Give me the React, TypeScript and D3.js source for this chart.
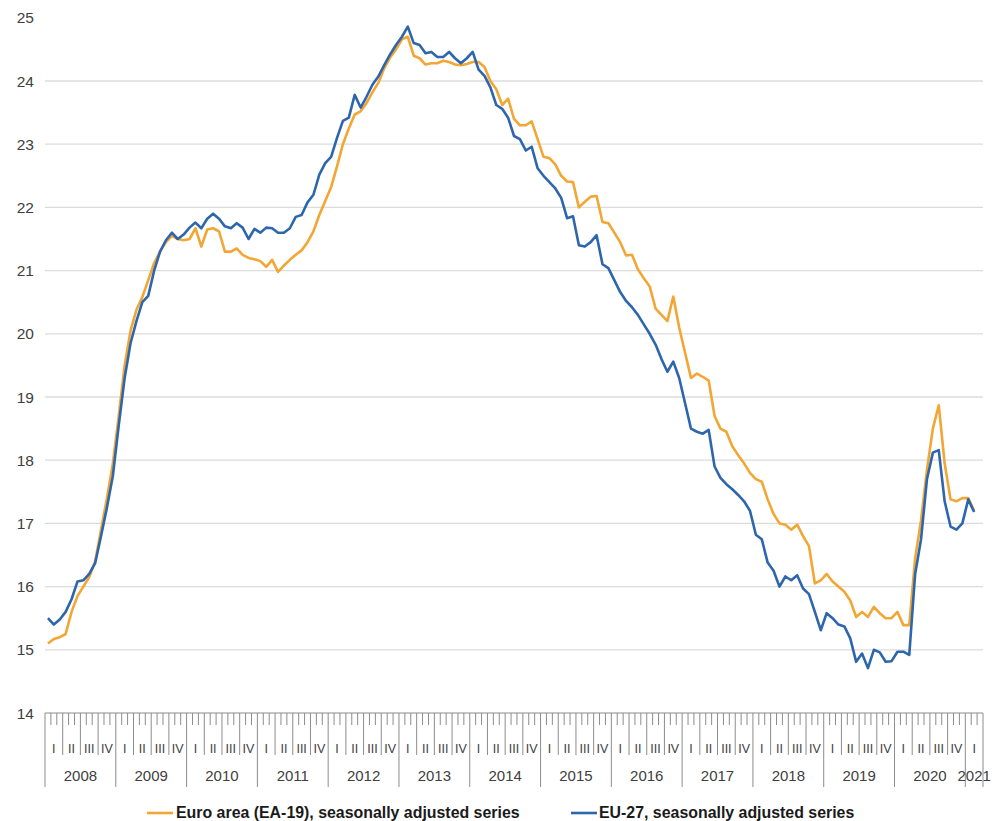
import React from 'react';
import * as d3 from 'd3';

// ---- data ----
const years = [2008, 2009, 2010, 2011, 2012, 2013, 2014, 2015, 2016, 2017, 2018, 2019, 2020, 2021];
const monthsInLastYear = 3;
const quarterLabels = ['I', 'II', 'III', 'IV'];
const yTicks = [14, 15, 16, 17, 18, 19, 20, 21, 22, 23, 24, 25];
const legendLabels = ['Euro area (EA-19), seasonally adjusted series', 'EU-27, seasonally adjusted series'];

// Euro area (EA-19), monthly from Jan 2008
const euroArea = [
  15.1, 15.17, 15.2, 15.25, 15.6, 15.85, 16.0, 16.15, 16.4, 16.9,
  17.4, 17.95, 18.7, 19.5, 20.05, 20.38, 20.58, 20.85, 21.12, 21.3,
  21.45, 21.55, 21.5, 21.48, 21.5, 21.67, 21.38, 21.65, 21.67, 21.62,
  21.3, 21.3, 21.35, 21.25, 21.2, 21.18, 21.15, 21.06, 21.17, 20.98,
  21.08, 21.17, 21.25, 21.32, 21.45, 21.62, 21.88, 22.1, 22.32, 22.65,
  23.0, 23.25, 23.47, 23.52, 23.65, 23.82, 23.97, 24.2, 24.37, 24.5,
  24.66, 24.7, 24.4, 24.36, 24.26, 24.28, 24.28, 24.32, 24.3, 24.26,
  24.25, 24.27, 24.3, 24.3, 24.22, 24.0, 23.87, 23.62, 23.72, 23.4,
  23.3, 23.3, 23.36, 23.08, 22.8, 22.78, 22.68, 22.5, 22.41, 22.4,
  22.0, 22.09, 22.17, 22.18, 21.77, 21.75, 21.6, 21.45, 21.24, 21.25,
  21.02, 20.88, 20.75, 20.4, 20.3, 20.2, 20.59, 20.1, 19.7, 19.3,
  19.37, 19.32, 19.26, 18.7, 18.5, 18.45, 18.22, 18.08, 17.95, 17.8,
  17.7, 17.66, 17.38, 17.15, 17.0, 16.98, 16.9, 16.98, 16.8, 16.64,
  16.05, 16.1, 16.2, 16.08, 16.0, 15.92, 15.78, 15.52, 15.6, 15.52,
  15.68, 15.58, 15.5, 15.5, 15.6, 15.39, 15.39, 16.45, 17.05, 17.85,
  18.5, 18.87, 17.95, 17.38, 17.35, 17.4, 17.4, 17.2,
];

// EU-27, monthly from Jan 2008
const eu27 = [
  15.5, 15.4, 15.48, 15.6, 15.8, 16.08, 16.1, 16.2, 16.37, 16.8,
  17.25, 17.75, 18.55, 19.3, 19.85, 20.2, 20.5, 20.6, 21.0, 21.3,
  21.48, 21.6, 21.5, 21.57, 21.68, 21.76, 21.67, 21.82, 21.9, 21.82,
  21.7, 21.67, 21.75, 21.68, 21.5, 21.66, 21.6, 21.68, 21.67, 21.6,
  21.6, 21.67, 21.85, 21.88, 22.08, 22.2, 22.52, 22.7, 22.8, 23.1,
  23.37, 23.42, 23.78, 23.58, 23.75, 23.94, 24.07, 24.25, 24.42, 24.57,
  24.7, 24.86, 24.6, 24.57, 24.44, 24.46, 24.38, 24.38, 24.46, 24.36,
  24.28, 24.36, 24.46, 24.18, 24.08, 23.9, 23.62, 23.56, 23.42, 23.13,
  23.08, 22.9, 22.96, 22.62, 22.5, 22.4, 22.3, 22.15, 21.83, 21.86,
  21.4, 21.38, 21.45, 21.56, 21.1, 21.04, 20.85, 20.66, 20.52, 20.42,
  20.3, 20.15, 20.0, 19.83, 19.6, 19.4, 19.56, 19.3, 18.9, 18.5,
  18.45, 18.42, 18.48, 17.9, 17.72, 17.62, 17.54, 17.45, 17.35, 17.2,
  16.82, 16.75, 16.38, 16.25, 16.0, 16.16, 16.1, 16.18, 15.97, 15.88,
  15.6, 15.31, 15.58, 15.5, 15.4, 15.37, 15.18, 14.81, 14.94, 14.71,
  15.0, 14.96, 14.81, 14.82, 14.97, 14.97, 14.92, 16.2, 16.75, 17.7,
  18.12, 18.16, 17.35, 16.95, 16.9, 17.0, 17.38, 17.18,
];

// ---- layout ----
const W = 992;
const H = 821;
const LEFT = 45;
const RIGHT = 983;
const AXIS_Y = 713;
const TOP_Y = 17.8;
const ORANGE = '#F2A634';
const BLUE = '#2E66AD';
const FONT = '"Liberation Sans", Arial, Helvetica, sans-serif';

export default function App() {
  const months: { key: string; year: number; m: number }[] = [];
  years.forEach((yr, i) => {
    const n = i === years.length - 1 ? monthsInLastYear : 12;
    for (let m = 0; m < n; m++) months.push({ key: `${yr}-${m + 1}`, year: yr, m });
  });
  const keys = months.map((d) => d.key);
  const x = d3.scaleBand<string>().domain(keys).range([LEFT, RIGHT]).paddingInner(0).paddingOuter(0);
  const bw = x.bandwidth();
  const y = d3.scaleLinear().domain([14, 25]).range([AXIS_Y, TOP_Y]);
  const cx = (i: number) => (x(keys[i]) as number) + bw / 2;

  const line = d3
    .line<number>()
    .x((_, i) => cx(i))
    .y((d) => y(d));

  const monthTicks = months.map((d) => {
    const xs = x(d.key) as number;
    const len = d.m === 0 ? 74 : d.m % 3 === 0 ? 42 : 12;
    return { x: xs, len, key: d.key };
  });

  const quarterPos: { x: number; label: string; key: string }[] = [];
  const yearPos: { x: number; label: string }[] = [];
  years.forEach((yr, i) => {
    const n = i === years.length - 1 ? monthsInLastYear : 12;
    const start = x(`${yr}-1`) as number;
    const end = start + n * bw;
    yearPos.push({ x: (start + end) / 2, label: String(yr) });
    for (let q = 0; q < 4; q++) {
      if (q * 3 >= n) break;
      const qs = start + q * 3 * bw;
      const qe = Math.min(start + (q + 1) * 3 * bw, end);
      quarterPos.push({ x: (qs + qe) / 2, label: quarterLabels[q], key: `${yr}-q${q}` });
    }
  });

  const axisColor = '#8c8c8c';
  const textColor = '#404040';

  return (
    <div style={{ position: 'absolute', left: 0, top: 0, width: W, height: H, background: '#fff' }}>
      <svg width={W} height={H} style={{ display: 'block' }} fontFamily={FONT}>
        <rect x={0} y={0} width={W} height={H} fill="#fff" />
        {/* gridlines */}
        {yTicks
          .filter((t) => t > 14 && t < 25)
          .map((t) => (
            <line key={`g${t}`} x1={LEFT} x2={RIGHT} y1={y(t)} y2={y(t)} stroke="#dcdcdc" strokeWidth={1.3} />
          ))}
        {/* y labels */}
        {yTicks.map((t) => (
          <text key={`yl${t}`} x={34} y={y(t)} dy="0.36em" textAnchor="end" fontSize={15.5} fill={textColor}>
            {t}
          </text>
        ))}
        {/* x axis */}
        <line x1={LEFT} x2={RIGHT} y1={AXIS_Y} y2={AXIS_Y} stroke={axisColor} strokeWidth={1.2} />
        {monthTicks.map((t) => (
          <line key={`mt${t.key}`} x1={t.x} x2={t.x} y1={AXIS_Y} y2={AXIS_Y + t.len} stroke={axisColor} strokeWidth={1} />
        ))}
        <line x1={RIGHT} x2={RIGHT} y1={AXIS_Y} y2={AXIS_Y + 74} stroke={axisColor} strokeWidth={1} />
        {quarterPos.map((q) => (
          <text key={q.key} x={q.x} y={753} textAnchor="middle" fontSize={12.5} fill={textColor}>
            {q.label}
          </text>
        ))}
        {yearPos.map((yp) => (
          <text key={`y${yp.label}`} x={yp.x} y={780.5} textAnchor="middle" fontSize={15} fill={textColor}>
            {yp.label}
          </text>
        ))}
        {/* series */}
        <path d={line(euroArea) || ''} fill="none" stroke={ORANGE} strokeWidth={2.6} strokeLinejoin="round" />
        <path d={line(eu27) || ''} fill="none" stroke={BLUE} strokeWidth={2.6} strokeLinejoin="round" />
        {/* legend */}
        <line x1={147} x2={173} y1={813} y2={813} stroke={ORANGE} strokeWidth={2.6} />
        <text x={176} y={817.5} fontSize={15.9} fontWeight="bold" fill="#1a1a1a">
          {legendLabels[0]}
        </text>
        <line x1={571} x2={597} y1={813} y2={813} stroke={BLUE} strokeWidth={2.6} />
        <text x={599} y={817.5} fontSize={15.9} fontWeight="bold" fill="#1a1a1a">
          {legendLabels[1]}
        </text>
      </svg>
    </div>
  );
}
